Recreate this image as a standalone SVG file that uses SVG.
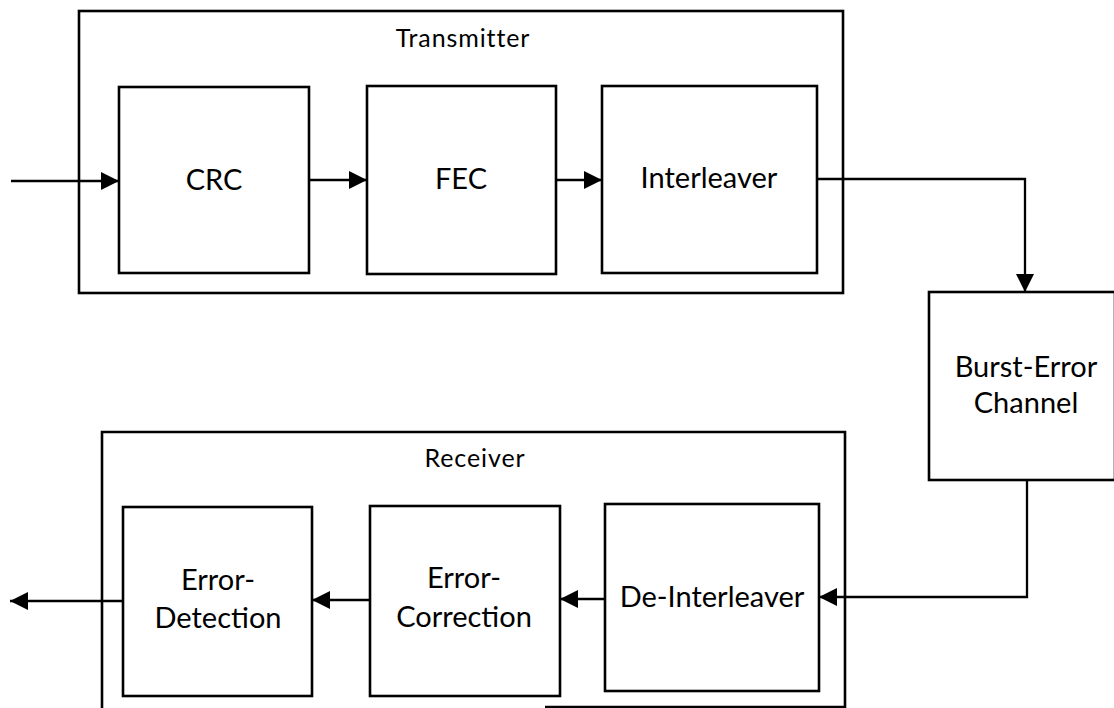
<svg xmlns="http://www.w3.org/2000/svg" width="1114" height="708" viewBox="0 0 1114 708">
  <style>
    .box { fill: #fff; stroke: #000; stroke-width: 2.6; }
    .frame { fill: none; stroke: #000; stroke-width: 2.6; }
    .wire { fill: none; stroke: #000; stroke-width: 2.3; }
    .lbl { font-family: Lato, "Open Sans", sans-serif; font-size: 29px; fill: #000; text-anchor: middle; }
    .title { font-family: Lato, "Open Sans", sans-serif; font-size: 25px; fill: #000; text-anchor: middle; letter-spacing: 0.9px; }
  </style>
  <defs>
    <marker id="arrow" viewBox="0 0 18 18" refX="18" refY="9" markerWidth="18" markerHeight="18" markerUnits="userSpaceOnUse" orient="auto">
      <path d="M0,0 L18,9 L0,18 Z" fill="#000"/>
    </marker>
  </defs>

  <rect width="1114" height="708" fill="#fff"/>

  <!-- Transmitter group -->
  <g id="transmitter">
    <rect class="frame" x="79" y="11" width="764" height="282"/>
    <text class="title" x="463" y="47">Transmitter</text>
  </g>
  <g id="crc">
    <rect class="box" x="119" y="87" width="190" height="186"/>
    <text class="lbl" x="214" y="190">CRC</text>
  </g>
  <g id="fec">
    <rect class="box" x="367" y="86" width="189" height="188"/>
    <text class="lbl" x="461" y="189">FEC</text>
  </g>
  <g id="interleaver">
    <rect class="box" x="602" y="86" width="215" height="187"/>
    <text class="lbl" x="709" y="188">Interleaver</text>
  </g>

  <!-- Channel -->
  <g id="channel">
    <rect class="box" x="929" y="292" width="186" height="188"/>
    <text class="lbl" x="1026" y="377">Burst-Error</text>
    <text class="lbl" x="1026" y="413">Channel</text>
  </g>

  <!-- Receiver group -->
  <g id="receiver">
    <path class="frame" d="M102,708 V432 H845 V707 H545"/>
    <text class="title" x="475" y="467">Receiver</text>
  </g>
  <g id="error-detection">
    <rect class="box" x="123" y="507" width="189" height="189"/>
    <text class="lbl" x="218" y="590">Error-</text>
    <text class="lbl" x="218" y="628">Detection</text>
  </g>
  <g id="error-correction">
    <rect class="box" x="370" y="506" width="190" height="190"/>
    <text class="lbl" x="464" y="588">Error-</text>
    <text class="lbl" x="464" y="627">Correction</text>
  </g>
  <g id="de-interleaver">
    <rect class="box" x="605" y="504" width="214" height="187"/>
    <text class="lbl" x="712" y="607">De-Interleaver</text>
  </g>

  <!-- Connectors -->
  <g id="connectors">
    <path class="wire" d="M11,181 H119" marker-end="url(#arrow)"/>
    <path class="wire" d="M309,180 H367" marker-end="url(#arrow)"/>
    <path class="wire" d="M556,180 H602" marker-end="url(#arrow)"/>
    <path class="wire" d="M817,179 H1025 V292" marker-end="url(#arrow)"/>
    <path class="wire" d="M1027,480 V597 H819" marker-end="url(#arrow)"/>
    <path class="wire" d="M605,599 H560" marker-end="url(#arrow)"/>
    <path class="wire" d="M370,600 H312" marker-end="url(#arrow)"/>
    <path class="wire" d="M123,601 H10" marker-end="url(#arrow)"/>
  </g>
</svg>
